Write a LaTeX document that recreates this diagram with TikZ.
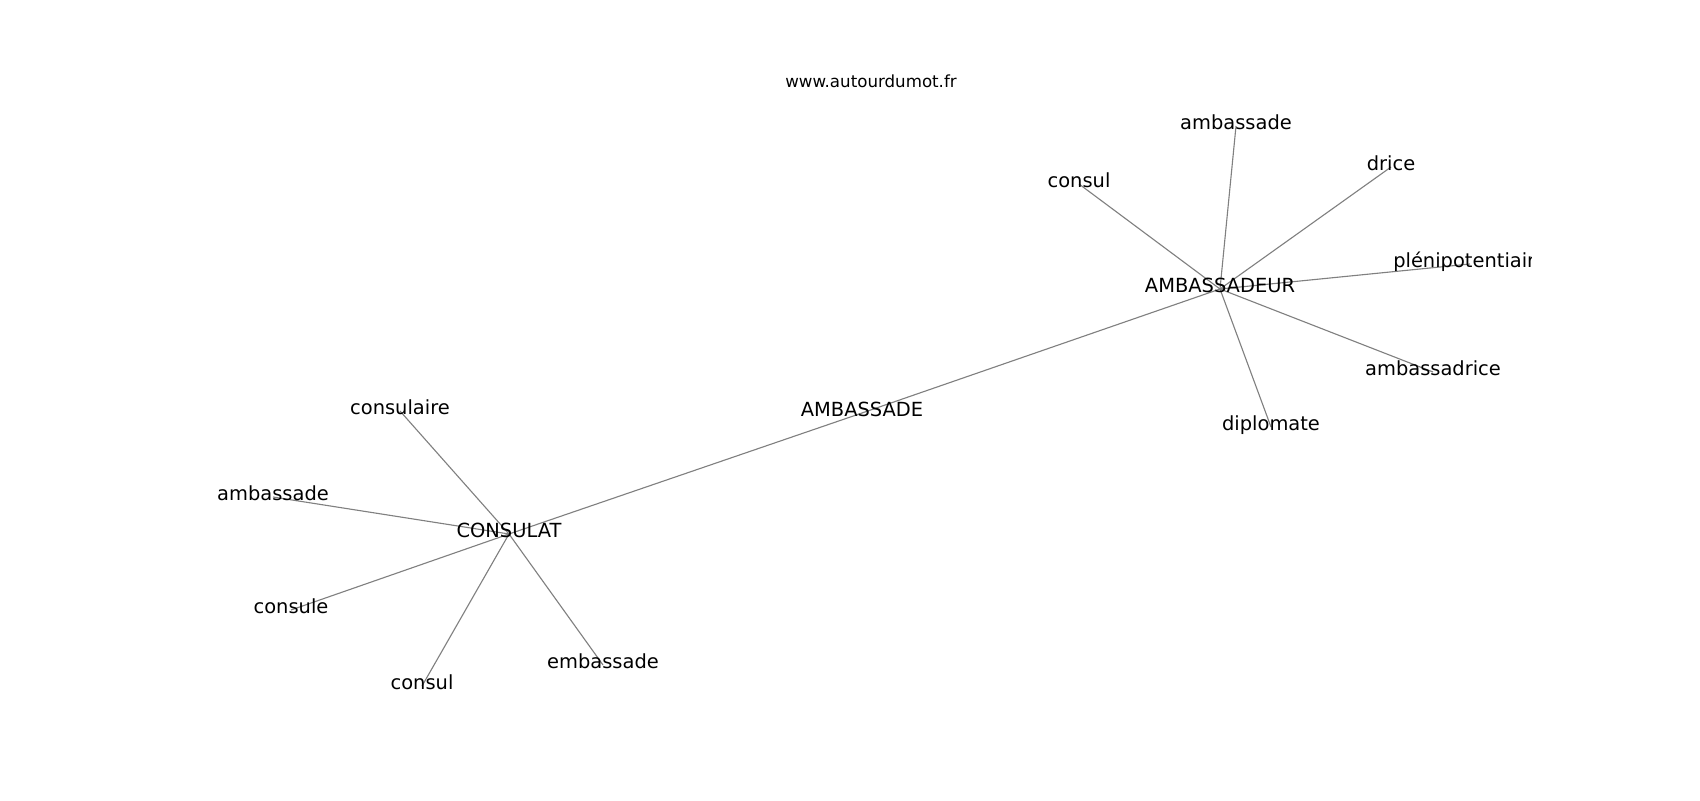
\documentclass[tikz,border=0pt]{standalone}
\usepackage{fontspec}
\setmainfont{DejaVu Sans}
\usetikzlibrary{backgrounds}
\begin{document}
\begin{tikzpicture}[x=0.72pt,y=-0.72pt,
  lbl/.style={inner sep=0pt,font=\fontsize{14}{16}\selectfont,text height=0.76em,text depth=0.24em},
  ttl/.style={inner sep=0pt,font=\fontsize{12}{14}\selectfont,text height=0.76em,text depth=0.24em},
  edge/.style={draw=black!50,line width=0.8pt}]
\useasboundingbox (0,0) rectangle (1700,800);
\node[ttl] (title) at (871,84) {www.autourdumot.fr};
% hubs
\node[lbl] (ambd) at (1220,289) {AMBASSADEUR};
\node[lbl] (amb) at (862,413) {AMBASSADE};
\node[lbl] (cons) at (509,534) {CONSULAT};
% right cluster
\node[lbl] (r1) at (1079,184) {consul};
\node[lbl] (r2) at (1236,126) {ambassade};
\node[lbl] (r3) at (1391,167) {drice};
\begin{scope}
\clip (0,0) rectangle (1531,800);
\node[lbl] (r4) at (1470,264) {plénipotentiaire};
\end{scope}
\node[lbl] (r5) at (1433,372) {ambassadrice};
\node[lbl] (r6) at (1271,427) {diplomate};
% left cluster
\node[lbl] (l1) at (400,411) {consulaire};
\node[lbl] (l2) at (273,497) {ambassade};
\node[lbl] (l3) at (291,610) {consule};
\node[lbl] (l4) at (422,686) {consul};
\node[lbl] (l5) at (603,665) {embassade};
\begin{pgfonlayer}{background}
\fill[white] (0,0) rectangle (1700,800);
\foreach \n in {r1,r2,r3,r4,r5,r6,amb}
  \draw[edge] (ambd.center) -- (\n.center);
\foreach \n in {l1,l2,l3,l4,l5,amb}
  \draw[edge] (cons.center) -- (\n.center);
\end{pgfonlayer}
\end{tikzpicture}
\end{document}
